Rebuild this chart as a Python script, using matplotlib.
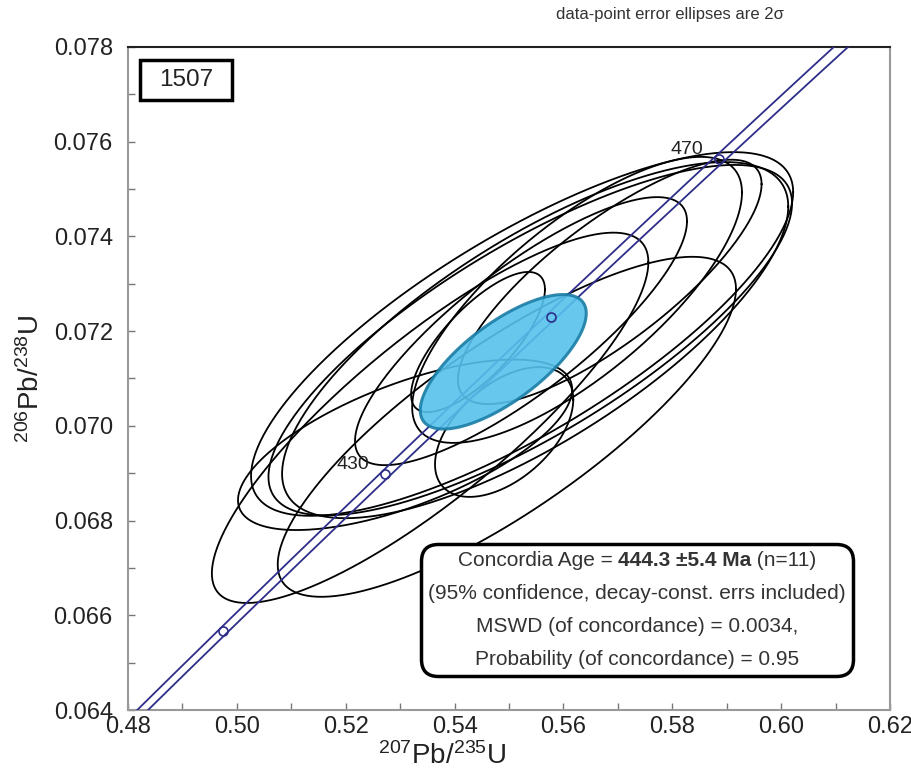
import numpy as np
import matplotlib.pyplot as plt
from matplotlib.patches import Rectangle
from matplotlib.offsetbox import TextArea, HPacker, VPacker, AnnotationBbox

plt.rcParams['font.family'] = ['Liberation Sans', 'DejaVu Sans']
plt.rcParams['mathtext.fontset'] = 'custom'
plt.rcParams['mathtext.rm'] = 'Liberation Sans'
plt.rcParams['mathtext.it'] = 'Liberation Sans:italic'
plt.rcParams['mathtext.bf'] = 'Liberation Sans:bold'

# U decay constants (1/yr)
lam238 = 1.55125e-10
lam235 = 9.8485e-10
lam_err = 0.0017          # relative half-width of the decay-constant band

# spot analyses: 207Pb/235U, 206Pb/238U, 2-sigma half extents, error correlation
ell_x = [0.5524, 0.5548, 0.5355, 0.5496, 0.5309, 0.5522, 0.5685, 0.5625, 0.5491, 0.5443, 0.5539]
ell_y = [0.07194, 0.07181, 0.07017, 0.06998, 0.06960, 0.07200, 0.07304, 0.07266, 0.06987, 0.07177, 0.07181]
ell_sx = [0.0498, 0.0465, 0.0401, 0.0421, 0.0307, 0.0305, 0.0279, 0.0303, 0.0127, 0.0123, 0.0481]
ell_sy = [0.00384, 0.00376, 0.00391, 0.00359, 0.00180, 0.00283, 0.00258, 0.00302, 0.00137, 0.00148, 0.00370]
ell_rho = [0.78, 0.75, 0.84, 0.81, 0.65, 0.82, 0.80, 0.75, 0.50, 0.75, 0.78]

# concordia age result
conc_age = 444.3
conc_err = 5.4
conc_n = 11
conc_sx = 0.01525
conc_sy = 0.00142
conc_rho = 0.72
mswd = 0.0034
prob = 0.95

tick_ages = [410, 430, 450, 470]
labelled_ages = [430, 470]

navy = '#2e2e8a'
ink = '#222222'


def ellipse_xy(cx, cy, sx, sy, rho, n=300):
    t = np.linspace(0, 2*np.pi, n)
    return cx + sx*np.cos(t), cy + sy*(rho*np.cos(t) + np.sqrt(1 - rho**2)*np.sin(t))


def concordia(age_ma, k=0.0):
    t = np.asarray(age_ma)*1e6
    return np.exp(lam235*(1 + k)*t) - 1, np.exp(lam238*t) - 1


fig = plt.figure(figsize=(9.12, 7.78), dpi=100)
ax = fig.add_axes([0.1404, 0.0874, 0.8355, 0.8522])

# decay-constant error band of the concordia
ages = np.linspace(380, 500, 400)
for k in (-lam_err, lam_err):
    cx, cy = concordia(ages, k)
    ax.plot(cx, cy, color=navy, lw=1.3, zorder=3)

mx, my = concordia(tick_ages)
ax.plot(mx, my, 'o', ms=6.5, mfc='none', mec=navy, mew=1.2, zorder=4)
for a in labelled_ages:
    px, py = concordia(a)
    ax.annotate(str(a), (px, py), xytext=(-32, 10), textcoords='offset pixels',
                ha='center', va='center', fontsize=14, color=ink, zorder=5)

# data-point error ellipses
for i in range(len(ell_x)):
    ex, ey = ellipse_xy(ell_x[i], ell_y[i], ell_sx[i], ell_sy[i], ell_rho[i])
    ax.plot(ex, ey, color='black', lw=1.3, zorder=2)

# concordia age ellipse
ax_c, ay_c = concordia(conc_age)
ex, ey = ellipse_xy(float(ax_c), float(ay_c), conc_sx, conc_sy, conc_rho)
ax.fill(ex, ey, facecolor='#56c1ec', edgecolor='#1b7ea6', lw=2.2, alpha=0.9, zorder=3)

ax.set_xlim(0.48, 0.62)
ax.set_ylim(0.064, 0.078)
xt = np.arange(0.48, 0.6201, 0.02)
yt = np.arange(0.064, 0.07801, 0.002)
ax.set_xticks(xt)
ax.set_xticks(np.arange(0.48, 0.6201, 0.01), minor=True)
ax.set_yticks(yt)
ax.set_yticks(np.arange(0.064, 0.07801, 0.001), minor=True)
ax.set_xticklabels(['%.2f' % v for v in xt])
ax.set_yticklabels(['%.3f' % v for v in yt])
ax.tick_params(which='both', direction='in', length=5, width=1, color='#777777',
               labelsize=17, labelcolor=ink)
ax.tick_params(axis='x', pad=4)
ax.tick_params(axis='y', pad=11)
for s in ('left', 'right', 'bottom'):
    ax.spines[s].set_color('#999999')
    ax.spines[s].set_linewidth(1.5)
ax.spines['top'].set_color(ink)
ax.spines['top'].set_linewidth(1.5)

ax.set_xlabel(r'$^{207}$Pb/$^{235}$U', fontsize=20, color=ink)
ax.xaxis.set_label_coords(0.412, -0.049)
ax.set_ylabel(r'$^{206}$Pb/$^{238}$U', fontsize=20, color=ink)
ax.yaxis.set_label_coords(-0.109, 0.5)

# sample label
ax.add_patch(Rectangle((0.0157, 0.920), 0.1208, 0.060, transform=ax.transAxes,
                       fc='white', ec='black', lw=2.5, zorder=6))
ax.text(0.0761, 0.950, '1507', transform=ax.transAxes, ha='center', va='center',
        fontsize=17.5, color=ink, zorder=7)

fig.text(0.735, 0.981, 'data-point error ellipses are 2\u03c3', ha='center', va='center',
         fontsize=12, color='#333333')

# result box
fs = 15
tc = '#333333'
line1 = HPacker(children=[
    TextArea('Concordia Age = ', textprops=dict(fontsize=fs, color=tc)),
    TextArea('%.1f \u00b1%.1f Ma' % (conc_age, conc_err),
             textprops=dict(fontsize=fs, color=tc, fontweight='bold')),
    TextArea(' (n=%d)' % conc_n, textprops=dict(fontsize=fs, color=tc)),
], align='baseline', pad=0, sep=0)
lines = [line1,
         TextArea('(95% confidence, decay-const. errs included)', textprops=dict(fontsize=fs, color=tc)),
         TextArea('MSWD (of concordance) = %.4f,' % mswd, textprops=dict(fontsize=fs, color=tc)),
         TextArea('Probability (of concordance) = %.2f' % prob, textprops=dict(fontsize=fs, color=tc))]
box = VPacker(children=lines, align='center', pad=0, sep=10)
ab = AnnotationBbox(box, (0.668, 0.151), xycoords='axes fraction', box_alignment=(0.5, 0.5),
                    frameon=True, pad=0.6,
                    bboxprops=dict(boxstyle='round,pad=0.5,rounding_size=1.2', lw=2.5,
                                   ec='black', fc='white'), zorder=8)
ax.add_artist(ab)

fig.savefig('out.png', dpi=100)
